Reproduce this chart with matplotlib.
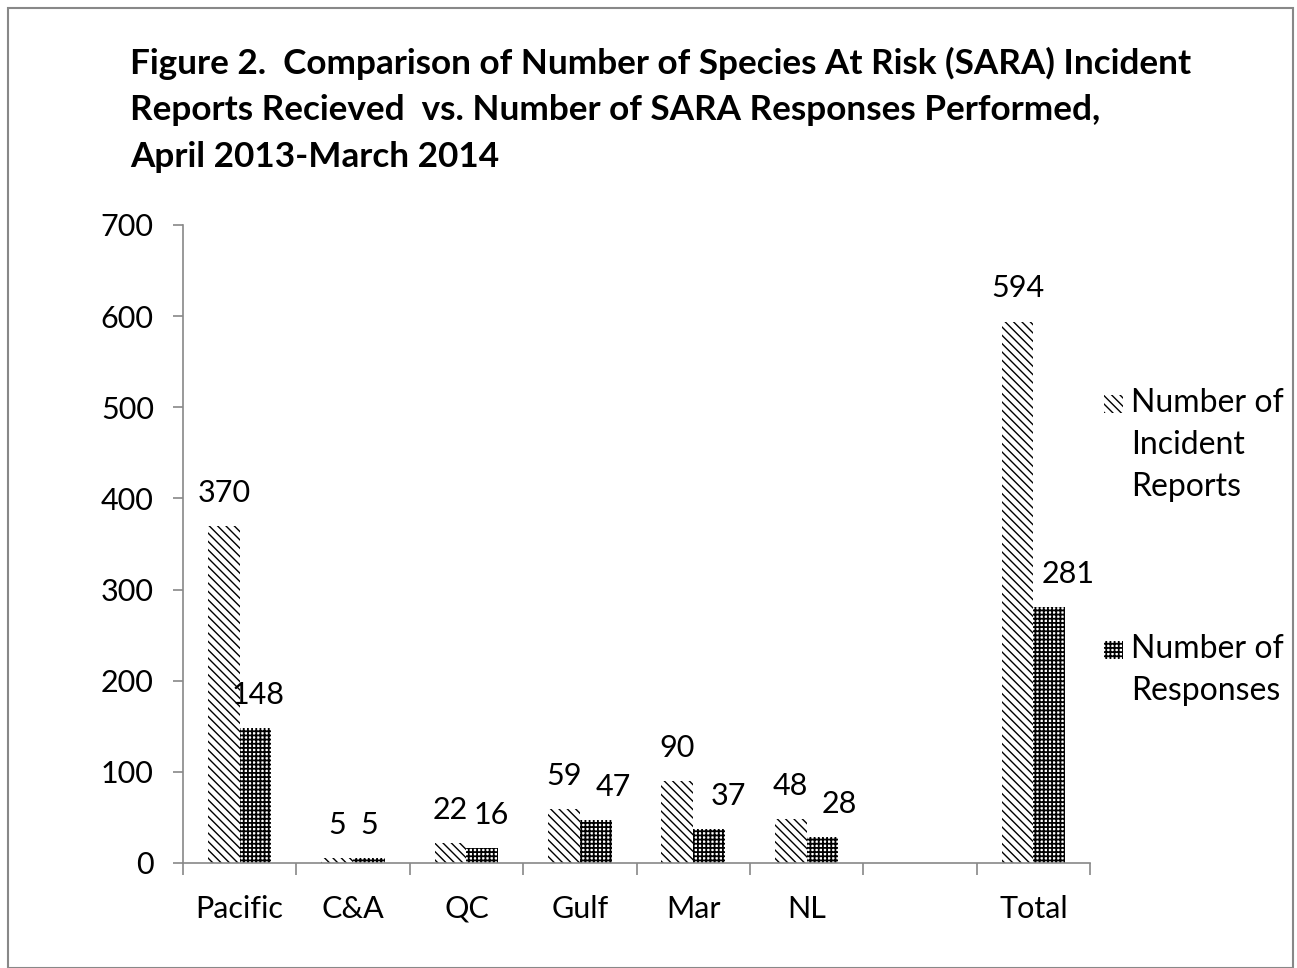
import numpy as np
import matplotlib.pyplot as plt
from matplotlib.patches import Rectangle

categories = ['Pacific', 'C&A', 'QC', 'Gulf', 'Mar', 'NL', '', 'Total']
incident_reports = [370, 5, 22, 59, 90, 48, np.nan, 594]
responses = [148, 5, 16, 47, 37, 28, np.nan, 281]
# small horizontal nudges of the response labels (Excel moved them to avoid overlap)
resp_label_shift = [0.02, 0.0, 0.08, 0.16, 0.17, 0.15, 0.0, 0.17]

title = ('Figure 2.  Comparison of Number of Species At Risk (SARA) Incident\n'
         'Reports Recieved  vs. Number of SARA Responses Performed,\n'
         'April 2013-March 2014')
legend_labels = ['Number of\nIncident\nReports', 'Number of\nResponses']

plt.rcParams['font.family'] = ['Lato', 'DejaVu Sans']
plt.rcParams['hatch.linewidth'] = 1.0

W, H = 1297, 968
fig = plt.figure(figsize=(W / 100, H / 100), dpi=100)
ax = fig.add_axes([183 / W, 1 - 863 / H, (1090 - 183) / W, (863 - 225) / H])

hatch_inc = '\\\\\\\\'
hatch_resp = '++++'


def set_hlw(patch, lw):
    if hasattr(patch, 'set_hatch_linewidth'):
        patch.set_hatch_linewidth(lw)


x = np.arange(len(categories))
w = 0.28
b1 = ax.bar(x - w / 2, incident_reports, w, facecolor='white', edgecolor='black',
            hatch=hatch_inc, linewidth=0)
b2 = ax.bar(x + w / 2, responses, w, facecolor='white', edgecolor='black',
            hatch=hatch_resp, linewidth=0)
for p in b2:
    set_hlw(p, 1.3)

for xi, v in zip(x, incident_reports):
    if not np.isnan(v):
        ax.text(xi - w / 2, v + 21, f'{v:.0f}', ha='center', va='bottom', fontsize=22)
for xi, v, s in zip(x, responses, resp_label_shift):
    if not np.isnan(v):
        ax.text(xi + w / 2 + s, v + 21, f'{v:.0f}', ha='center', va='bottom', fontsize=22)

ax.set_xlim(-0.5, len(categories) - 0.5)
ax.set_ylim(0, 700)
ax.set_yticks(range(0, 701, 100))
ax.set_xticks(x)
ax.set_xticklabels(categories, fontsize=22)
ax.set_xticks(np.arange(-0.5, len(categories), 1), minor=True)
ax.tick_params(axis='x', which='major', length=0, pad=23)
ax.tick_params(axis='x', which='minor', length=8.5, color='#888888', width=1.2)
ax.tick_params(axis='y', labelsize=22, length=7, color='#888888', width=1.2, pad=14)
for s in ['top', 'right']:
    ax.spines[s].set_visible(False)
for s in ['left', 'bottom']:
    ax.spines[s].set_color('#888888')
    ax.spines[s].set_linewidth(1.2)

# legend drawn by hand: swatch beside the first line of each label
for label, hatch, top, hlw in [(legend_labels[0], hatch_inc, 388, 1.0),
                               (legend_labels[1], hatch_resp, 634, 1.3)]:
    r = Rectangle((1104 / W, 1 - (top + 25) / H), 19 / W, 18 / H, transform=fig.transFigure,
                  facecolor='white', edgecolor='black', hatch=hatch, linewidth=0)
    set_hlw(r, hlw)
    fig.patches.append(r)
    fig.text(1131 / W, 1 - top / H, label, ha='left', va='top', fontsize=23,
             linespacing=1.5)

fig.text(130 / W, 1 - 47 / H, title, ha='left', va='top', fontsize=25.3,
         fontweight='bold', linespacing=1.55)

fig.patches.append(Rectangle((8 / W, 0), 1285 / W, 1 - 8 / H, transform=fig.transFigure,
                             fill=False, edgecolor='#888888', linewidth=1.5))

fig.savefig('out.png', dpi=100)
